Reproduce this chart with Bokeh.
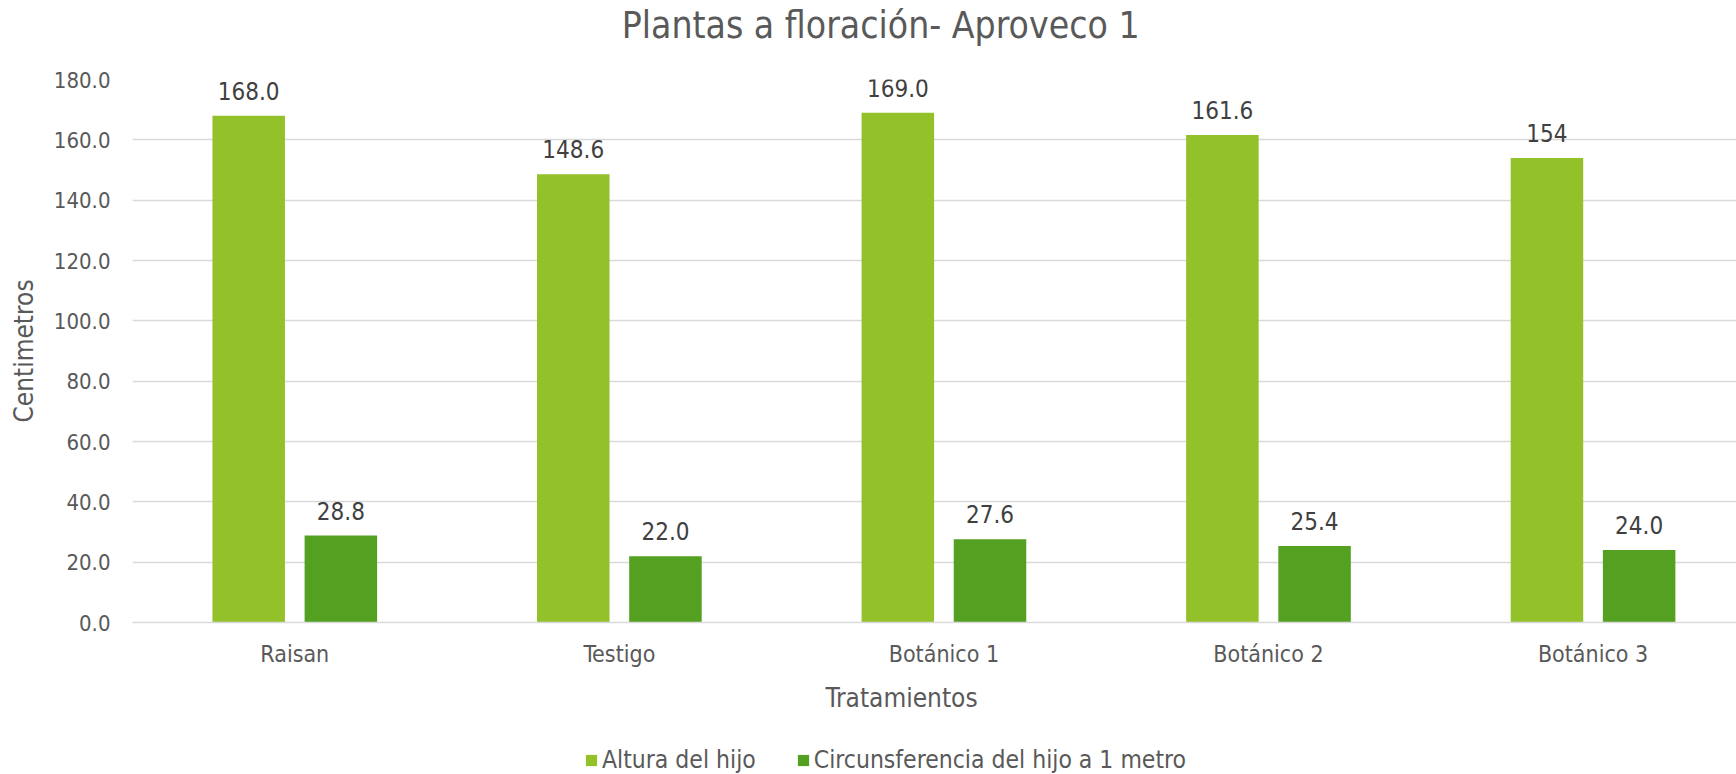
import numpy as np
from bokeh.plotting import figure
from bokeh.layouts import column
from bokeh.models import (ColumnDataSource, Range1d, FixedTicker, NumeralTickFormatter,
                          LabelSet, Label, Legend, LegendItem, Title)
from bokeh.core.properties import value
from bokeh.embed import file_html
from bokeh.resources import INLINE

title_text = "Plantas a floración- Aproveco 1"
categories = ["Raisan", "Testigo", "Botánico 1", "Botánico 2", "Botánico 3"]
altura = [168.0, 148.6, 169.0, 161.6, 154.0]
circunferencia = [28.8, 22.0, 27.6, 25.4, 24.0]
altura_labels = ["168.0", "148.6", "169.0", "161.6", "154"]
circ_labels = ["28.8", "22.0", "27.6", "25.4", "24.0"]
series_names = ["Altura del hijo", "Circunsferencia del hijo a 1 metro"]
y_ticks = [0, 20, 40, 60, 80, 100, 120, 140, 160, 180]

FONT = "'DejaVu Sans Condensed', 'DejaVu Sans'"
C1 = "#92C12A"
C2 = "#54A122"
TXT = "#595959"

centers = np.arange(len(categories)) + 0.5
off = 0.142
bw = 0.2234

src1 = ColumnDataSource(dict(x=centers - off, top=altura, lab=altura_labels))
src2 = ColumnDataSource(dict(x=centers + off, top=circunferencia, lab=circ_labels))

xr = Range1d(0, 4.942)

# ---- title strip ----
tf = figure(width=1736, height=50, output_backend="svg", toolbar_location=None,
            x_range=xr, y_range=Range1d(0, 1),
            x_axis_location=None, y_axis_location=None, min_border=0)
tf.outline_line_color = None
tf.grid.grid_line_color = None
tf.add_layout(Label(x=2.305, y=0.5, text=title_text, text_align="center",
                    text_baseline="middle", text_font=FONT, text_font_size="37px",
                    text_color=TXT))

# ---- main chart ----
p = figure(width=1736, height=694, output_backend="svg", toolbar_location=None,
           x_range=xr, y_range=Range1d(0, 180),
           min_border_left=132, min_border_right=0, min_border_top=29, min_border_bottom=122)
p.outline_line_color = None
p.background_fill_color = "white"
p.border_fill_color = "white"

r1 = p.vbar(x="x", top="top", width=bw, source=src1, fill_color=C1, line_color=None)
r2 = p.vbar(x="x", top="top", width=bw, source=src2, fill_color=C2, line_color=None)

for s in (src1, src2):
    p.add_layout(LabelSet(x="x", y="top", text="lab", source=s, y_offset=16,
                          text_align="center", text_baseline="alphabetic",
                          text_font=value(FONT), text_font_size=value("24px"),
                          text_color=value("#404040")))

p.xgrid.grid_line_color = None
p.ygrid.grid_line_color = "#D9D9D9"
p.ygrid.grid_line_width = 1.5
p.yaxis.ticker = FixedTicker(ticks=y_ticks)
p.yaxis.formatter = NumeralTickFormatter(format="0.0")
p.yaxis.axis_line_color = None
p.yaxis.major_tick_line_color = None
p.yaxis.minor_tick_line_color = None
p.yaxis.major_tick_out = 0
p.yaxis.major_tick_in = 0
p.yaxis.minor_tick_out = 0
p.yaxis.major_label_standoff = 22
p.yaxis.major_label_text_font = FONT
p.yaxis.major_label_text_font_size = "22px"
p.yaxis.major_label_text_color = TXT
p.yaxis.axis_label = "Centimetros"
p.yaxis.axis_label_text_font = FONT
p.yaxis.axis_label_text_font_size = "26px"
p.yaxis.axis_label_text_font_style = "normal"
p.yaxis.axis_label_text_color = TXT
p.yaxis.axis_label_standoff = 12

p.xaxis.ticker = FixedTicker(ticks=list(centers))
p.xaxis.major_label_overrides = {float(c): n for c, n in zip(centers, categories)}
p.xaxis.axis_line_color = "#D9D9D9"
p.xaxis.axis_line_width = 1.5
p.xaxis.major_tick_line_color = None
p.xaxis.minor_tick_line_color = None
p.xaxis.major_tick_out = 0
p.xaxis.major_tick_in = 0
p.xaxis.minor_tick_out = 0
p.xaxis.major_label_standoff = 18
p.xaxis.major_label_text_font = FONT
p.xaxis.major_label_text_font_size = "23px"
p.xaxis.major_label_text_color = TXT

xt = Title(text="Tratamientos", text_font=FONT, text_font_size="26px",
           text_font_style="normal", text_color=TXT, align="left", offset=693,
           vertical_align="top", standoff=27)
p.add_layout(xt, "below")

# ---- legend strip ----
lg = figure(width=1736, height=30, output_backend="svg", toolbar_location=None,
            x_range=Range1d(-30, -29), y_range=Range1d(0, 1),
            x_axis_location=None, y_axis_location=None, min_border=0)
lg.outline_line_color = None
lg.grid.grid_line_color = None
d1 = lg.vbar(x="x", top="top", width=bw, source=src1, fill_color=C1, line_color=None)
d2 = lg.vbar(x="x", top="top", width=bw, source=src2, fill_color=C2, line_color=None)
legend = Legend(items=[LegendItem(label=series_names[0], renderers=[d1]),
                       LegendItem(label=series_names[1], renderers=[d2])],
                orientation="horizontal", location=(452, 0),
                glyph_width=14, glyph_height=14, label_standoff=4, spacing=40,
                padding=0, margin=0, border_line_color=None, background_fill_alpha=0,
                label_text_font=FONT, label_text_font_size="24.5px", label_text_color=TXT)
lg.add_layout(legend, "center")

layout = column(tf, p, lg, spacing=0)
open("out.html", "w").write(file_html(layout, INLINE))
